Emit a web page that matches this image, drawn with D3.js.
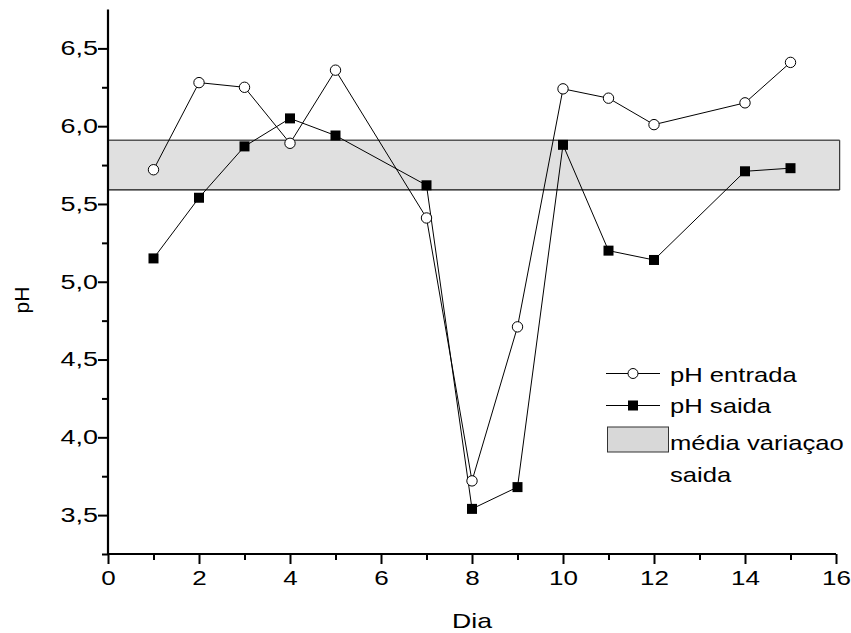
<!DOCTYPE html>
<html><head><meta charset="utf-8">
<script src="https://cdn.jsdelivr.net/npm/d3@7"></script>
<style>
body{margin:0;background:#fff;}
svg{font-family:"Liberation Sans",Arial,sans-serif;}
</style></head>
<body><svg id="c" width="851" height="633"></svg>
<script>
const days = [1,2,3,4,5,7,8,9,10,11,12,14,15];
const phEntrada = [5.72,6.28,6.25,5.89,6.36,5.41,3.72,4.71,6.24,6.18,6.01,6.15,6.41];
const phSaida = [5.15,5.54,5.87,6.05,5.94,5.62,3.54,3.68,5.88,5.20,5.14,5.71,5.73];
const bandRange = [5.59, 5.91];
const xTicks = [0,2,4,6,8,10,12,14,16];
const yTicks = [3.5,4.0,4.5,5.0,5.5,6.0,6.5];
const labels = {x:"Dia", y:"pH", s1:"pH entrada", s2:"pH saida", band1:"média variaçao", band2:"saida"};

const svg = d3.select("#c");
const x = d3.scaleLinear().domain([0,16]).range([108,836]);
const y = d3.scaleLinear().domain([3.25,6.75]).range([554,9.5]);
const fmt = d => d3.format(".1f")(d).replace(".", ",");

function stretch(sel, k){
  sel.each(function(){
    const L = this.getComputedTextLength();
    d3.select(this).attr("textLength", L*k).attr("lengthAdjust","spacingAndGlyphs");
  });
}

// band
svg.append("rect").attr("x", x(0)).attr("y", y(bandRange[1]))
  .attr("width", x(16.08)-x(0)).attr("height", y(bandRange[0])-y(bandRange[1]))
  .attr("fill","#e0e0e0").attr("stroke","none");
svg.append("line").attr("x1",x(0)).attr("x2",x(16.08)).attr("y1",y(bandRange[1])).attr("y2",y(bandRange[1])).attr("stroke","#555").attr("stroke-width",1.5);
svg.append("line").attr("x1",x(0)).attr("x2",x(16.08)).attr("y1",y(bandRange[0])).attr("y2",y(bandRange[0])).attr("stroke","#111").attr("stroke-width",1.2);
svg.append("line").attr("x1",x(16.08)).attr("x2",x(16.08)).attr("y1",y(bandRange[1])).attr("y2",y(bandRange[0])).attr("stroke","#333").attr("stroke-width",1.2);

// axes
const xAxis = d3.axisBottom(x).tickValues(xTicks).tickSize(10).tickPadding(7).tickFormat(d3.format("d"));
const xMinor = d3.axisBottom(x).tickValues(d3.range(1,16,2)).tickSize(6).tickFormat("");
const yAxis = d3.axisLeft(y).tickValues(yTicks).tickSize(10).tickPadding(0).tickFormat(fmt);
const yMinor = d3.axisLeft(y).tickValues(d3.range(3.25,6.75,0.5)).tickSize(6).tickFormat("");

function style(g){
  g.select(".domain").attr("stroke","#000").attr("stroke-width",2.2);
  g.selectAll(".tick line").attr("stroke","#000").attr("stroke-width",2);
  g.selectAll(".tick text").attr("fill","#000").style("font-size","20px");
}
svg.append("g").attr("transform",`translate(0,${y(3.25)})`).call(xMinor).call(style).select(".domain").remove();
svg.append("g").attr("transform",`translate(${x(0)},0)`).call(yMinor).call(style).select(".domain").remove();
const gx = svg.append("g").attr("transform",`translate(0,${y(3.25)})`).call(xAxis).call(style);
gx.select(".domain").attr("d",`M${x(0)-1},0H${x(16)}`);
stretch(gx.selectAll(".tick text"), 1.3);
const gy = svg.append("g").attr("transform",`translate(${x(0)},0)`).call(yAxis).call(style);
gy.select(".domain").attr("d",`M0,${y(6.75)}V${y(3.25)+1}`);
stretch(gy.selectAll(".tick text"), 1.35);

stretch(svg.append("text").attr("x",(x(0)+x(16))/2).attr("y",628).attr("text-anchor","middle")
  .style("font-size","21px").text(labels.x), 1.27);
svg.append("text").attr("transform","translate(29,300) rotate(-90)").attr("text-anchor","middle")
  .style("font-size","21px").text(labels.y);

// lines
const line = d3.line().x(d=>x(d[0])).y(d=>y(d[1]));
const d1 = days.map((d,i)=>[d,phEntrada[i]]);
const d2 = days.map((d,i)=>[d,phSaida[i]]);
svg.append("path").attr("d",line(d1)).attr("fill","none").attr("stroke","#000").attr("stroke-width",1);
svg.append("path").attr("d",line(d2)).attr("fill","none").attr("stroke","#000").attr("stroke-width",1);
svg.selectAll(".c").data(d1).enter().append("circle")
  .attr("cx",d=>x(d[0])).attr("cy",d=>y(d[1])).attr("r",5.2)
  .attr("fill","#fff").attr("stroke","#000").attr("stroke-width",1);
svg.selectAll(".s").data(d2).enter().append("rect")
  .attr("x",d=>x(d[0])-5).attr("y",d=>y(d[1])-5).attr("width",10).attr("height",10)
  .attr("fill","#000");

// legend
const lg = svg.append("g");
lg.append("line").attr("x1",606).attr("x2",660).attr("y1",373.5).attr("y2",373.5).attr("stroke","#000");
lg.append("circle").attr("cx",633).attr("cy",373.5).attr("r",5).attr("fill","#fff").attr("stroke","#000");
lg.append("text").attr("x",670).attr("y",382).style("font-size","21px").text(labels.s1);
lg.append("line").attr("x1",606).attr("x2",660).attr("y1",405.5).attr("y2",405.5).attr("stroke","#000");
lg.append("rect").attr("x",628).attr("y",400.5).attr("width",10).attr("height",10).attr("fill","#000");
lg.append("text").attr("x",670).attr("y",413).style("font-size","21px").text(labels.s2);
lg.append("rect").attr("x",607.5).attr("y",427).attr("width",61).attr("height",25)
  .attr("fill","#d8d8d8").attr("stroke","#333").attr("stroke-width",1);
lg.append("text").attr("x",670).attr("y",450).style("font-size","21px").text(labels.band1);
lg.append("text").attr("x",670).attr("y",482).style("font-size","21px").text(labels.band2);
stretch(lg.selectAll("text"), 1.22);
</script></body></html>
